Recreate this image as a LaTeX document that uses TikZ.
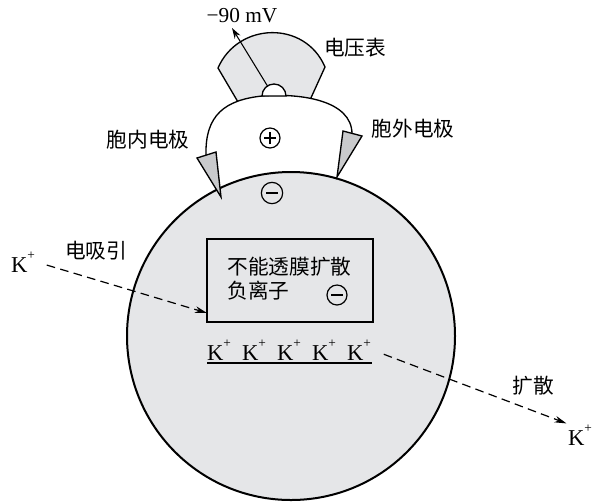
\documentclass[tikz,border=0pt]{standalone}
\usepackage{fontspec}
\setmainfont{Liberation Serif}
\newfontfamily\cjk{Noto Sans CJK SC}
\usetikzlibrary{arrows.meta}

\definecolor{cellgray}{HTML}{E5E6E8}
\definecolor{tipgray}{HTML}{C9CACC}

\newcommand{\kion}{K\raisebox{0.55em}{\fontsize{10}{10}\selectfont +}}

\tikzset{
  sign/.style={circle, draw, line width=0.9pt, minimum size=15pt, inner sep=0pt},
  plussign/.style={sign, path picture={
    \draw[line width=1pt] ([xshift=-4.5pt]path picture bounding box.center) -- ([xshift=4.5pt]path picture bounding box.center)
      ([yshift=-4.5pt]path picture bounding box.center) -- ([yshift=4.5pt]path picture bounding box.center);}},
  minussign/.style={sign, path picture={
    \draw[line width=2pt] ([xshift=-4.5pt]path picture bounding box.center) -- ([xshift=4.5pt]path picture bounding box.center);}},
  flow/.style={dash pattern=on 6.5pt off 4pt, line width=0.9pt, -{Stealth[length=9pt,width=5pt]}},
  lbl/.style={font=\cjk\fontsize{15.5}{19}\selectfont, inner sep=1pt},
  ion/.style={font=\fontsize{17}{18}\selectfont, inner sep=1pt},
}

\begin{document}
\begin{tikzpicture}[x=0.75pt,y=-0.75pt]
\useasboundingbox (0,0) rectangle (595,501);

% voltmeter: dial, needle and knob
\draw[fill=cellgray, line width=1pt] (218,68) .. controls (238,22) and (305,20) .. (325,67)
  -- (310,100) -- (238,102) -- cycle;
\draw[line width=0.8pt, -{Stealth[length=8pt,width=5pt]}] (273,95) -- (232,28);
\fill[white] (206,155) .. controls (205,115) and (225,100) .. (262,96)
  .. controls (300,93) and (352,100) .. (352,134) -- (352,210) -- (206,210) -- cycle;
\draw[line width=1pt] (206,155) .. controls (205,115) and (225,100) .. (262,96)
  .. controls (300,93) and (352,100) .. (352,134);
\draw[fill=white, line width=1pt] (262,96) arc (180:360:12) -- cycle;

% the cell
\draw[fill=cellgray, line width=1.5pt] (291,336) circle (164);

% electrodes
\draw[fill=tipgray, line width=1pt] (197,158) -- (216,152) -- (221,197) -- cycle;
\draw[fill=tipgray, line width=1pt] (343,131) -- (362,136) -- (337,177) -- cycle;

\node[plussign] (inside) at (270,138) {};
\node[minussign, minimum size=16pt] (outside) at (272,193) {};

\node[font=\fontsize{16}{18}\selectfont] (volt) at (242,16) {−90 mV};
\node[lbl] (meter) at (355,48) {电压表};
\node[lbl] (inlabel) at (148,140) {胞内电极};
\node[lbl] (outlabel) at (413,129) {胞外电极};

% anions that cannot cross
\node[draw, fill=cellgray, line width=1.5pt, minimum width=124.5pt, minimum height=62.25pt] (box) at (290,280.5) {};
\node[lbl, anchor=west] (line1) at (226,267) {不能透膜扩散};
\node[lbl, anchor=west] (line2) at (226,291) {负离子};
\node[minussign] (anion) at (337,295) {};

\node[ion] (k1) at (219,350) {\kion};
\node[ion] (k2) at (254,350) {\kion};
\node[ion] (k3) at (289,350) {\kion};
\node[ion] (k4) at (324,350) {\kion};
\node[ion] (k5) at (359,350) {\kion};
\draw[line width=1.5pt] (207,363) -- (372,363);

% K+ moving in and out
\node[ion] (kin) at (23,262) {\kion};
\coordinate (dock) at (207,313);
\draw[flow, shorten <=8pt] (kin.east) -- (dock);
\node[lbl] (pull) at (96,251) {电吸引};

\node[ion] (kout) at (580,435) {\kion};
\draw[flow, shorten <=9pt] (k5.east) -- (kout.north west);
\node[lbl] (spread) at (533,386) {扩散};
\end{tikzpicture}
\end{document}
